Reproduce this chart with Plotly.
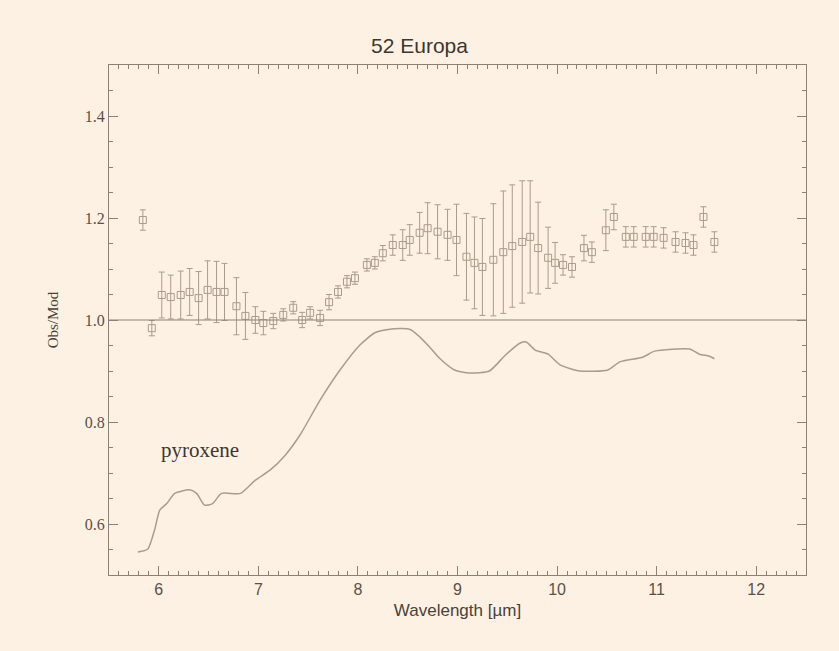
import plotly.graph_objects as go

# Observed / model ratio data points
wave = [5.84, 5.93, 6.03, 6.12, 6.22, 6.31, 6.40, 6.49, 6.58, 6.66, 6.78, 6.87, 6.97, 7.05,
        7.15, 7.25, 7.35, 7.44, 7.52, 7.62, 7.71, 7.80, 7.89, 7.97, 8.09, 8.17, 8.25, 8.35,
        8.45, 8.52, 8.62, 8.70, 8.80, 8.90, 8.99, 9.09, 9.17, 9.25, 9.36, 9.46, 9.55, 9.65,
        9.73, 9.81, 9.91, 9.98, 10.06, 10.15, 10.27, 10.35, 10.49, 10.57, 10.69, 10.77,
        10.89, 10.97, 11.07, 11.19, 11.29, 11.37, 11.47, 11.58]
ratio = [1.196, 0.984, 1.049, 1.045, 1.049, 1.055, 1.043, 1.059, 1.055, 1.055, 1.027, 1.008,
         1.000, 0.994, 0.998, 1.010, 1.024, 1.000, 1.014, 1.004, 1.035, 1.055, 1.075, 1.082,
         1.108, 1.112, 1.131, 1.147, 1.147, 1.157, 1.171, 1.180, 1.173, 1.167, 1.157, 1.124,
         1.112, 1.104, 1.118, 1.133, 1.145, 1.153, 1.163, 1.141, 1.122, 1.112, 1.108, 1.104,
         1.141, 1.133, 1.176, 1.202, 1.163, 1.163, 1.163, 1.163, 1.161, 1.153, 1.151, 1.147,
         1.202, 1.153]
ratio_err = [0.020, 0.015, 0.045, 0.043, 0.047, 0.046, 0.052, 0.057, 0.060, 0.056, 0.056, 0.046,
             0.026, 0.023, 0.015, 0.012, 0.012, 0.015, 0.012, 0.015, 0.015, 0.012, 0.012, 0.012,
             0.012, 0.012, 0.015, 0.020, 0.030, 0.030, 0.040, 0.050, 0.053, 0.050, 0.070, 0.085,
             0.090, 0.095, 0.110, 0.120, 0.120, 0.120, 0.110, 0.090, 0.060, 0.040, 0.020, 0.020,
             0.025, 0.020, 0.040, 0.025, 0.020, 0.020, 0.020, 0.020, 0.020, 0.020, 0.020, 0.020,
             0.020, 0.020]

# Pyroxene emissivity curve
pyx_wave = [5.79, 5.89, 5.96, 6.01, 6.08, 6.16, 6.31, 6.38, 6.46, 6.54, 6.63, 6.82, 6.97, 7.12,
            7.27, 7.42, 7.62, 7.82, 8.02, 8.17, 8.32, 8.52, 8.62, 8.72, 8.82, 8.97, 9.12, 9.32,
            9.48, 9.63, 9.69, 9.78, 9.91, 10.03, 10.23, 10.51, 10.63, 10.86, 10.98, 11.33,
            11.43, 11.53, 11.58]
pyx_val = [0.545, 0.551, 0.590, 0.627, 0.640, 0.660, 0.667, 0.660, 0.637, 0.640, 0.660, 0.660,
           0.686, 0.706, 0.735, 0.775, 0.843, 0.902, 0.951, 0.975, 0.982, 0.982, 0.967, 0.947,
           0.925, 0.902, 0.896, 0.900, 0.931, 0.955, 0.957, 0.941, 0.933, 0.912, 0.900, 0.902,
           0.918, 0.927, 0.939, 0.943, 0.933, 0.929, 0.924]

BG = "#fdf1e3"
LINE = "#a89c8d"
AXIS = "#8c8174"

fig = go.Figure()

fig.add_trace(go.Scatter(
    x=pyx_wave, y=pyx_val, mode="lines", line_shape="spline",
    line=dict(color=LINE, width=1.5, smoothing=0.6), showlegend=False, hoverinfo="skip"))

fig.add_trace(go.Scatter(
    x=wave, y=ratio, mode="markers",
    marker=dict(symbol="square-open", size=7, color=LINE, line=dict(width=1, color=LINE)),
    error_y=dict(type="data", array=ratio_err, visible=True, color=LINE, thickness=1, width=3),
    showlegend=False))

fig.add_hline(y=1.0, line=dict(color=AXIS, width=1.2))

fig.add_annotation(x=6.41, y=0.745, text="pyroxene", showarrow=False,
                   font=dict(family="Liberation Serif", size=21, color="#3d3730"))

axis_common = dict(showline=True, linecolor=AXIS, linewidth=1.2, mirror="allticks",
                   ticks="inside", ticklen=9, tickcolor=AXIS, tickwidth=1,
                   showgrid=False, zeroline=False)

fig.update_xaxes(range=[5.5, 12.5], tick0=6, dtick=1,
                 minor=dict(dtick=0.1, ticks="inside", ticklen=4, tickcolor=AXIS, showgrid=False),
                 tickfont=dict(family="Liberation Sans", size=16, color="#5a5048"),
                 title=dict(text="Wavelength [µm]", standoff=6,
                            font=dict(family="Liberation Sans", size=17, color="#4a423a")),
                 **axis_common)
fig.update_yaxes(range=[0.5, 1.5], tick0=0, dtick=0.2, tickformat=".1f",
                 minor=dict(dtick=0.05, ticks="inside", ticklen=4, tickcolor=AXIS, showgrid=False),
                 tickfont=dict(family="Liberation Serif", size=16, color="#5a5048"),
                 title=dict(text="Obs/Mod", standoff=22,
                            font=dict(family="Liberation Serif", size=15, color="#4a423a")),
                 **axis_common)

fig.update_layout(
    width=839, height=651,
    margin=dict(l=109, r=33, t=65, b=76),
    paper_bgcolor=BG, plot_bgcolor=BG,
    title=dict(text="52 Europa", x=0.5, xanchor="center", y=0.93, yanchor="middle",
               font=dict(family="Liberation Sans", size=21, color="#3d3730")),
)

fig.write_html("out.html")
